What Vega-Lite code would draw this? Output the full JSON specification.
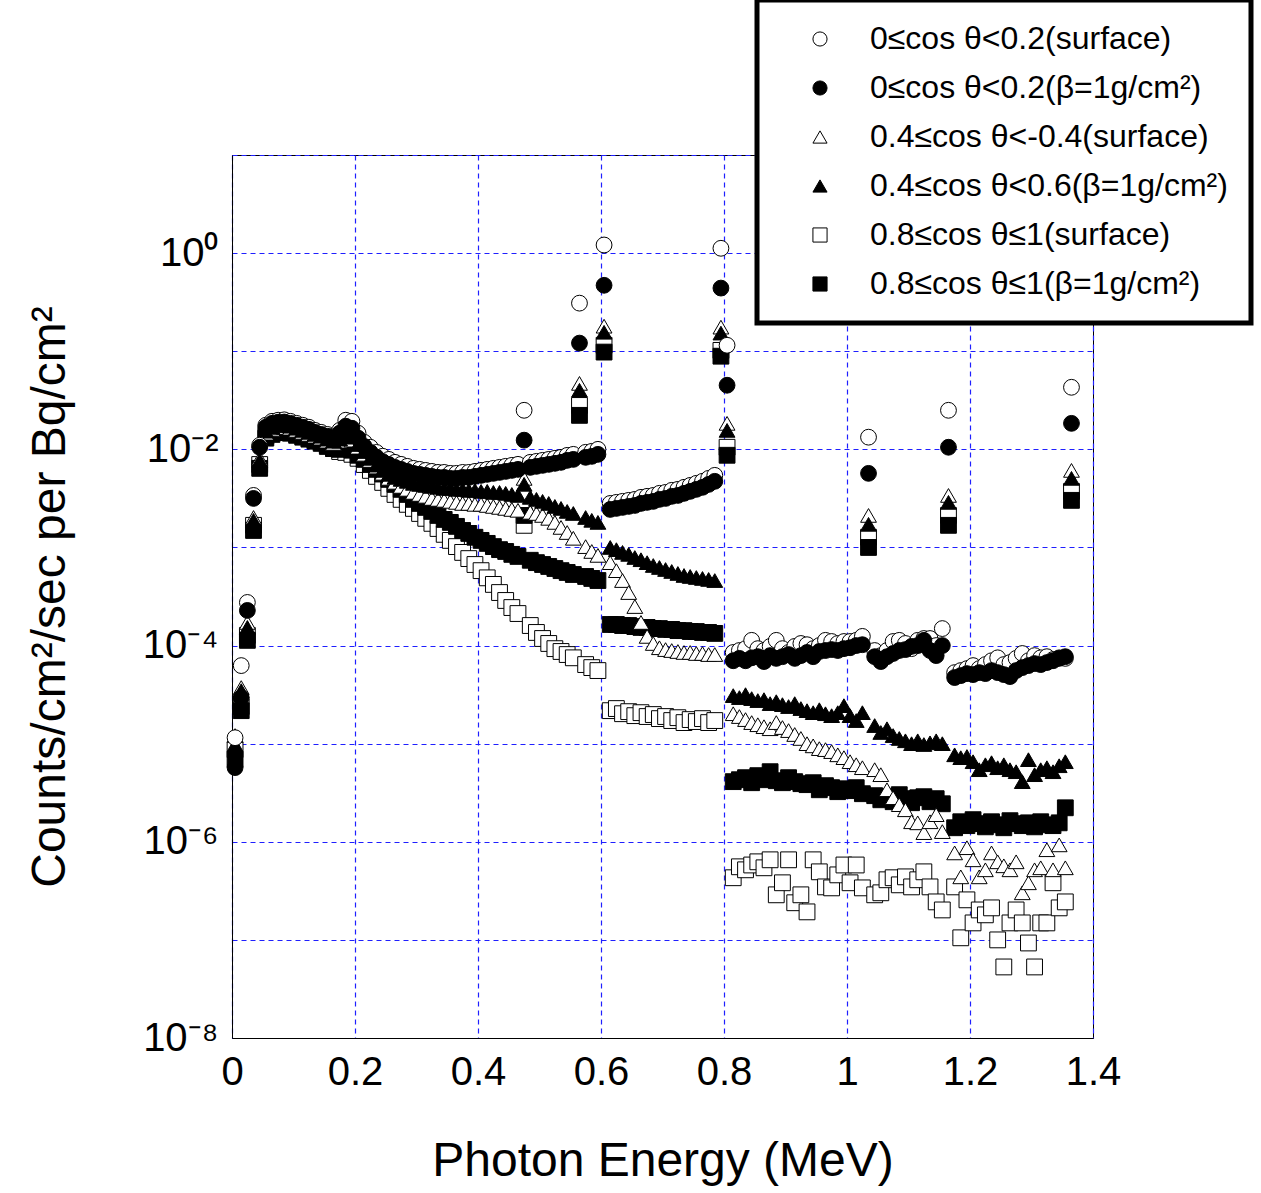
{
"$schema": "https://vega.github.io/schema/vega-lite/v6.json",
"width": 861, "height": 883,
"autosize": {"type": "none"},
"padding": {"left": 232, "top": 155, "right": 168, "bottom": 155},
"background": "white",
"config": {"font": "Liberation Sans", "view": {"stroke": "black", "strokeWidth": 1},
  "legend": {"strokeColor": "black", "strokeWidth": 5, "fillColor": "white", "padding": 23,
             "symbolOffset": 24, "labelOffset": 34, "rowPadding": 17, "symbolSize": 200,
             "symbolStrokeWidth": 1,
             "labelFontSize": 32, "labelColor": "black", "labelLimit": 700}},
"data": {"values": [
{"e":0.005,"s1":8.7e-6,"s2":6.9e-6,"s3":1.21e-5,"s4":9.77e-6,"s5":1.15e-5,"s6":5.7e-6},
{"e":0.015,"s1":2.39e-5,"s2":2.17e-5,"s3":3.73e-5,"s4":3.47e-5,"s5":6.25e-5,"s6":2.95e-5},
{"e":0.025,"s1":1.27e-4,"s2":1.13e-4,"s3":1.72e-4,"s4":1.53e-4,"s5":2.75e-4,"s6":2.28e-4},
{"e":0.035,"s1":1.68e-3,"s2":1.49e-3,"s3":2.02e-3,"s4":1.89e-3,"s5":3.39e-3,"s6":3.16e-3},
{"e":0.045,"s1":7.0e-3,"s2":6.4e-3,"s3":8.1e-3,"s4":7.7e-3,"s5":1.10e-2,"s6":1.05e-2},
{"e":0.055,"s1":1.36e-2,"s2":1.30e-2,"s3":1.46e-2,"s4":1.53e-2,"s5":1.76e-2,"s6":1.68e-2},
{"e":0.065,"s1":1.49e-2,"s2":1.42e-2,"s3":1.60e-2,"s4":1.68e-2,"s5":1.93e-2,"s6":1.84e-2},
{"e":0.075,"s1":1.56e-2,"s2":1.49e-2,"s3":1.68e-2,"s4":1.76e-2,"s5":1.98e-2,"s6":1.89e-2},
{"e":0.085,"s1":1.55e-2,"s2":1.48e-2,"s3":1.67e-2,"s4":1.75e-2,"s5":2.0e-2,"s6":1.9e-2},
{"e":0.095,"s1":1.53e-2,"s2":1.46e-2,"s3":1.64e-2,"s4":1.72e-2,"s5":1.93e-2,"s6":1.84e-2},
{"e":0.105,"s1":1.46e-2,"s2":1.39e-2,"s3":1.56e-2,"s4":1.64e-2,"s5":1.84e-2,"s6":1.76e-2},
{"e":0.115,"s1":1.39e-2,"s2":1.33e-2,"s3":1.49e-2,"s4":1.56e-2,"s5":1.76e-2,"s6":1.68e-2},
{"e":0.125,"s1":1.33e-2,"s2":1.27e-2,"s3":1.42e-2,"s4":1.49e-2,"s5":1.68e-2,"s6":1.60e-2},
{"e":0.135,"s1":1.24e-2,"s2":1.21e-2,"s3":1.36e-2,"s4":1.42e-2,"s5":1.56e-2,"s6":1.49e-2},
{"e":0.145,"s1":1.18e-2,"s2":1.15e-2,"s3":1.30e-2,"s4":1.36e-2,"s5":1.49e-2,"s6":1.42e-2},
{"e":0.155,"s1":1.10e-2,"s2":1.07e-2,"s3":1.21e-2,"s4":1.27e-2,"s5":1.42e-2,"s6":1.36e-2},
{"e":0.165,"s1":1.02e-2,"s2":1.02e-2,"s3":1.15e-2,"s4":1.21e-2,"s5":1.36e-2,"s6":1.30e-2},
{"e":0.175,"s1":9.5e-3,"s2":1.0e-2,"s3":1.21e-2,"s4":1.27e-2,"s5":1.56e-2,"s6":1.46e-2},
{"e":0.185,"s1":9.3e-3,"s2":1.05e-2,"s3":1.33e-2,"s4":1.39e-2,"s5":1.98e-2,"s6":1.72e-2},
{"e":0.195,"s1":8.9e-3,"s2":9.8e-3,"s3":1.24e-2,"s4":1.33e-2,"s5":1.93e-2,"s6":1.64e-2},
{"e":0.205,"s1":8.1e-3,"s2":8.7e-3,"s3":1.05e-2,"s4":1.12e-2,"s5":1.46e-2,"s6":1.30e-2},
{"e":0.215,"s1":7.0e-3,"s2":7.9e-3,"s3":8.9e-3,"s4":9.5e-3,"s5":1.18e-2,"s6":1.07e-2},
{"e":0.225,"s1":6.1e-3,"s2":7.0e-3,"s3":7.7e-3,"s4":8.1e-3,"s5":1.05e-2,"s6":9.3e-3},
{"e":0.235,"s1":5.3e-3,"s2":6.25e-3,"s3":6.6e-3,"s4":6.9e-3,"s5":9.3e-3,"s6":8.3e-3},
{"e":0.245,"s1":4.6e-3,"s2":5.6e-3,"s3":5.7e-3,"s4":6.1e-3,"s5":8.5e-3,"s6":7.5e-3},
{"e":0.255,"s1":4.0e-3,"s2":4.94e-3,"s3":5.06e-3,"s4":5.56e-3,"s5":7.9e-3,"s6":7.0e-3},
{"e":0.265,"s1":3.47e-3,"s2":4.39e-3,"s3":4.61e-3,"s4":5.18e-3,"s5":7.37e-3,"s6":6.55e-3},
{"e":0.275,"s1":3.09e-3,"s2":3.91e-3,"s3":4.19e-3,"s4":4.94e-3,"s5":7.03e-3,"s6":6.25e-3},
{"e":0.285,"s1":2.75e-3,"s2":3.47e-3,"s3":3.91e-3,"s4":4.72e-3,"s5":6.71e-3,"s6":5.96e-3},
{"e":0.295,"s1":2.5e-3,"s2":3.09e-3,"s3":3.64e-3,"s4":4.5e-3,"s5":6.4e-3,"s6":5.69e-3},
{"e":0.305,"s1":2.22e-3,"s2":2.81e-3,"s3":3.47e-3,"s4":4.39e-3,"s5":6.25e-3,"s6":5.56e-3},
{"e":0.315,"s1":1.98e-3,"s2":2.56e-3,"s3":3.32e-3,"s4":4.29e-3,"s5":6.1e-3,"s6":5.43e-3},
{"e":0.325,"s1":1.76e-3,"s2":2.33e-3,"s3":3.16e-3,"s4":4.19e-3,"s5":5.96e-3,"s6":5.3e-3},
{"e":0.335,"s1":1.56e-3,"s2":2.12e-3,"s3":3.09e-3,"s4":4.1e-3,"s5":5.82e-3,"s6":5.18e-3},
{"e":0.345,"s1":1.36e-3,"s2":1.93e-3,"s3":3.02e-3,"s4":4.0e-3,"s5":5.82e-3,"s6":5.18e-3},
{"e":0.355,"s1":1.18e-3,"s2":1.8e-3,"s3":2.95e-3,"s4":4.0e-3,"s5":5.69e-3,"s6":5.06e-3},
{"e":0.365,"s1":1.02e-3,"s2":1.64e-3,"s3":2.88e-3,"s4":3.91e-3,"s5":5.69e-3,"s6":5.06e-3},
{"e":0.375,"s1":8.9e-4,"s2":1.49e-3,"s3":2.81e-3,"s4":3.91e-3,"s5":5.82e-3,"s6":5.18e-3},
{"e":0.385,"s1":7.7e-4,"s2":1.39e-3,"s3":2.81e-3,"s4":3.82e-3,"s5":5.82e-3,"s6":5.18e-3},
{"e":0.395,"s1":6.7e-4,"s2":1.27e-3,"s3":2.75e-3,"s4":3.82e-3,"s5":5.96e-3,"s6":5.3e-3},
{"e":0.405,"s1":5.8e-4,"s2":1.18e-3,"s3":2.75e-3,"s4":3.73e-3,"s5":6.1e-3,"s6":5.43e-3},
{"e":0.415,"s1":4.9e-4,"s2":1.10e-3,"s3":2.68e-3,"s4":3.73e-3,"s5":6.25e-3,"s6":5.56e-3},
{"e":0.425,"s1":4.2e-4,"s2":1.02e-3,"s3":2.62e-3,"s4":3.64e-3,"s5":6.4e-3,"s6":5.69e-3},
{"e":0.435,"s1":3.47e-4,"s2":9.5e-4,"s3":2.56e-3,"s4":3.64e-3,"s5":6.55e-3,"s6":5.82e-3},
{"e":0.445,"s1":2.88e-4,"s2":9.1e-4,"s3":2.5e-3,"s4":3.56e-3,"s5":6.71e-3,"s6":5.96e-3},
{"e":0.455,"s1":2.44e-4,"s2":8.5e-4,"s3":2.44e-3,"s4":3.47e-3,"s5":6.87e-3,"s6":6.1e-3},
{"e":0.465,"s1":2.12e-4,"s2":8.1e-4,"s3":2.39e-3,"s4":3.39e-3,"s5":7.03e-3,"s6":6.25e-3},
{"e":0.475,"s1":1.68e-3,"s2":2.12e-3,"s3":5.06e-3,"s4":4.4e-3,"s5":2.5e-2,"s6":1.24e-2},
{"e":0.485,"s1":1.6e-4,"s2":7.4e-4,"s3":2.28e-3,"s4":3.24e-3,"s5":7.37e-3,"s6":6.55e-3},
{"e":0.495,"s1":1.36e-4,"s2":7.0e-4,"s3":2.22e-3,"s4":3.09e-3,"s5":7.54e-3,"s6":6.71e-3},
{"e":0.505,"s1":1.18e-4,"s2":6.7e-4,"s3":2.12e-3,"s4":2.95e-3,"s5":7.72e-3,"s6":6.87e-3},
{"e":0.515,"s1":1.05e-4,"s2":6.4e-4,"s3":1.98e-3,"s4":2.81e-3,"s5":7.9e-3,"s6":7.03e-3},
{"e":0.525,"s1":9.3e-5,"s2":6.1e-4,"s3":1.8e-3,"s4":2.62e-3,"s5":8.1e-3,"s6":7.2e-3},
{"e":0.535,"s1":8.7e-5,"s2":5.8e-4,"s3":1.6e-3,"s4":2.5e-3,"s5":8.29e-3,"s6":7.37e-3},
{"e":0.545,"s1":8.1e-5,"s2":5.56e-4,"s3":1.42e-3,"s4":2.33e-3,"s5":8.68e-3,"s6":7.72e-3},
{"e":0.555,"s1":7.5e-5,"s2":5.3e-4,"s3":1.24e-3,"s4":2.22e-3,"s5":8.89e-3,"s6":7.9e-3},
{"e":0.565,"s1":2.8e-2,"s2":2.22e-2,"s3":4.7e-2,"s4":4.0e-2,"s5":0.309,"s6":0.121},
{"e":0.575,"s1":6.4e-5,"s2":5.06e-4,"s3":1.02e-3,"s4":2.02e-3,"s5":9.32e-3,"s6":8.29e-3},
{"e":0.585,"s1":5.96e-5,"s2":4.83e-4,"s3":9.1e-4,"s4":1.89e-3,"s5":9.54e-3,"s6":8.48e-3},
{"e":0.595,"s1":5.56e-5,"s2":4.6e-4,"s3":8.3e-4,"s4":1.8e-3,"s5":1.0e-2,"s6":8.89e-3},
{"e":0.605,"s1":0.115,"s2":0.098,"s3":0.18,"s4":0.156,"s5":1.21,"s6":0.47},
{"e":0.615,"s1":2.17e-5,"s2":1.64e-4,"s3":7.0e-4,"s4":1.0e-3,"s5":2.81e-3,"s6":2.44e-3},
{"e":0.625,"s1":2.28e-5,"s2":1.64e-4,"s3":5.8e-4,"s4":9.5e-4,"s5":2.88e-3,"s6":2.5e-3},
{"e":0.635,"s1":2.02e-5,"s2":1.6e-4,"s3":4.6e-4,"s4":8.9e-4,"s5":2.95e-3,"s6":2.56e-3},
{"e":0.645,"s1":2.12e-5,"s2":1.6e-4,"s3":3.47e-4,"s4":8.5e-4,"s5":3.02e-3,"s6":2.62e-3},
{"e":0.655,"s1":1.93e-5,"s2":1.56e-4,"s3":2.5e-4,"s4":7.9e-4,"s5":3.09e-3,"s6":2.68e-3},
{"e":0.665,"s1":2.07e-5,"s2":1.53e-4,"s3":1.72e-4,"s4":7.5e-4,"s5":3.24e-3,"s6":2.81e-3},
{"e":0.675,"s1":1.89e-5,"s2":1.53e-4,"s3":1.24e-4,"s4":7.0e-4,"s5":3.32e-3,"s6":2.88e-3},
{"e":0.685,"s1":1.98e-5,"s2":1.49e-4,"s3":1.05e-4,"s4":6.55e-4,"s5":3.39e-3,"s6":2.95e-3},
{"e":0.695,"s1":1.8e-5,"s2":1.49e-4,"s3":9.5e-5,"s4":6.25e-4,"s5":3.56e-3,"s6":3.09e-3},
{"e":0.705,"s1":1.89e-5,"s2":1.46e-4,"s3":9.1e-5,"s4":5.96e-4,"s5":3.64e-3,"s6":3.16e-3},
{"e":0.715,"s1":1.72e-5,"s2":1.46e-4,"s3":8.9e-5,"s4":5.69e-4,"s5":3.82e-3,"s6":3.32e-3},
{"e":0.725,"s1":1.84e-5,"s2":1.42e-4,"s3":8.7e-5,"s4":5.43e-4,"s5":3.91e-3,"s6":3.39e-3},
{"e":0.735,"s1":1.64e-5,"s2":1.42e-4,"s3":8.5e-5,"s4":5.18e-4,"s5":4.1e-3,"s6":3.56e-3},
{"e":0.745,"s1":1.76e-5,"s2":1.39e-4,"s3":8.5e-5,"s4":5.06e-4,"s5":4.29e-3,"s6":3.73e-3},
{"e":0.755,"s1":1.68e-5,"s2":1.39e-4,"s3":8.3e-5,"s4":4.94e-4,"s5":4.5e-3,"s6":3.91e-3},
{"e":0.765,"s1":1.8e-5,"s2":1.36e-4,"s3":8.3e-5,"s4":4.83e-4,"s5":4.72e-3,"s6":4.1e-3},
{"e":0.775,"s1":1.64e-5,"s2":1.36e-4,"s3":8.1e-5,"s4":4.72e-4,"s5":5.06e-3,"s6":4.39e-3},
{"e":0.785,"s1":1.72e-5,"s2":1.33e-4,"s3":8.1e-5,"s4":4.6e-4,"s5":5.43e-3,"s6":4.72e-3},
{"e":0.795,"s1":0.102,"s2":8.9e-2,"s3":0.176,"s4":0.153,"s5":1.12,"s6":0.44},
{"e":0.805,"s1":1.05e-2,"s2":8.7e-3,"s3":1.84e-2,"s4":1.56e-2,"s5":0.115,"s6":4.5e-2},
{"e":0.815,"s1":4.3e-7,"s2":4.1e-6,"s3":2.02e-5,"s4":3.09e-5,"s5":8.5e-5,"s6":7.0e-5},
{"e":0.825,"s1":5.56e-7,"s2":4.29e-6,"s3":1.89e-5,"s4":2.95e-5,"s5":8.9e-5,"s6":7.4e-5},
{"e":0.835,"s1":5.18e-7,"s2":4.5e-6,"s3":1.76e-5,"s4":3.16e-5,"s5":9.3e-5,"s6":7.0e-5},
{"e":0.845,"s1":5.8e-7,"s2":4.0e-6,"s3":1.64e-5,"s4":2.88e-5,"s5":1.13e-4,"s6":7.5e-5},
{"e":0.855,"s1":6.25e-7,"s2":4.72e-6,"s3":1.56e-5,"s4":2.75e-5,"s5":9.3e-5,"s6":7.7e-5},
{"e":0.865,"s1":5.43e-7,"s2":4.29e-6,"s3":1.49e-5,"s4":2.81e-5,"s5":8.9e-5,"s6":6.87e-5},
{"e":0.875,"s1":6.55e-7,"s2":5.18e-6,"s3":1.42e-5,"s4":2.56e-5,"s5":9.8e-5,"s6":7.9e-5},
{"e":0.885,"s1":2.88e-7,"s2":4.19e-6,"s3":1.64e-5,"s4":2.68e-5,"s5":1.13e-4,"s6":7.4e-5},
{"e":0.895,"s1":3.82e-7,"s2":4.0e-6,"s3":1.46e-5,"s4":2.5e-5,"s5":9.3e-5,"s6":7.7e-5},
{"e":0.905,"s1":6.55e-7,"s2":4.5e-6,"s3":1.36e-5,"s4":2.39e-5,"s5":8.5e-5,"s6":8.1e-5},
{"e":0.915,"s1":2.39e-7,"s2":4.1e-6,"s3":1.24e-5,"s4":2.56e-5,"s5":9.8e-5,"s6":7.4e-5},
{"e":0.925,"s1":2.88e-7,"s2":3.91e-6,"s3":1.13e-5,"s4":2.28e-5,"s5":1.05e-4,"s6":7.9e-5},
{"e":0.935,"s1":1.93e-7,"s2":3.82e-6,"s3":1.0e-5,"s4":2.17e-5,"s5":1.02e-4,"s6":8.5e-5},
{"e":0.945,"s1":6.55e-7,"s2":4.0e-6,"s3":9.5e-6,"s4":2.07e-5,"s5":9.3e-5,"s6":7.7e-5},
{"e":0.955,"s1":4.94e-7,"s2":3.39e-6,"s3":8.9e-6,"s4":2.22e-5,"s5":1.0e-4,"s6":8.7e-5},
{"e":0.965,"s1":3.47e-7,"s2":3.73e-6,"s3":8.7e-6,"s4":2.02e-5,"s5":1.13e-4,"s6":8.9e-5},
{"e":0.975,"s1":3.39e-7,"s2":3.56e-6,"s3":8.3e-6,"s4":1.93e-5,"s5":1.1e-4,"s6":9.1e-5},
{"e":0.985,"s1":4.6e-7,"s2":3.24e-6,"s3":7.7e-6,"s4":2.07e-5,"s5":1.05e-4,"s6":8.9e-5},
{"e":0.995,"s1":5.8e-7,"s2":3.47e-6,"s3":7.2e-6,"s4":2.44e-5,"s5":1.1e-4,"s6":9.3e-5},
{"e":1.005,"s1":3.82e-7,"s2":3.32e-6,"s3":6.55e-6,"s4":1.93e-5,"s5":1.1e-4,"s6":9.5e-5},
{"e":1.015,"s1":5.8e-7,"s2":3.56e-6,"s3":6.1e-6,"s4":1.72e-5,"s5":1.13e-4,"s6":1.0e-4},
{"e":1.025,"s1":3.39e-7,"s2":3.09e-6,"s3":5.69e-6,"s4":2.07e-5,"s5":1.24e-4,"s6":1.02e-4},
{"e":1.035,"s1":1.27e-3,"s2":1.0e-3,"s3":2.12e-3,"s4":1.72e-3,"s5":1.33e-2,"s6":5.69e-3},
{"e":1.045,"s1":2.88e-7,"s2":2.95e-6,"s3":5.43e-6,"s4":1.53e-5,"s5":8.9e-5,"s6":7.7e-5},
{"e":1.055,"s1":3.02e-7,"s2":2.68e-6,"s3":4.83e-6,"s4":1.3e-5,"s5":7.9e-5,"s6":6.87e-5},
{"e":1.065,"s1":4.1e-7,"s2":2.88e-6,"s3":3.39e-6,"s4":1.42e-5,"s5":8.9e-5,"s6":7.7e-5},
{"e":1.075,"s1":4.3e-7,"s2":2.56e-6,"s3":2.81e-6,"s4":1.21e-5,"s5":1.1e-4,"s6":8.3e-5},
{"e":1.085,"s1":3.64e-7,"s2":3.02e-6,"s3":2.39e-6,"s4":1.13e-5,"s5":1.13e-4,"s6":8.9e-5},
{"e":1.095,"s1":4.39e-7,"s2":2.75e-6,"s3":2.12e-6,"s4":1.07e-5,"s5":1.05e-4,"s6":9.1e-5},
{"e":1.105,"s1":3.47e-7,"s2":2.5e-6,"s3":1.6e-6,"s4":1.0e-5,"s5":9.3e-5,"s6":9.8e-5},
{"e":1.115,"s1":4.1e-7,"s2":2.81e-6,"s3":1.56e-6,"s4":1.07e-5,"s5":1.13e-4,"s6":1.0e-4},
{"e":1.125,"s1":4.94e-7,"s2":2.88e-6,"s3":1.24e-6,"s4":9.8e-6,"s5":1.18e-4,"s6":1.13e-4},
{"e":1.135,"s1":3.47e-7,"s2":2.56e-6,"s3":1.6e-6,"s4":1.02e-5,"s5":1.18e-4,"s6":8.9e-5},
{"e":1.145,"s1":2.44e-7,"s2":2.75e-6,"s3":1.89e-6,"s4":1.07e-5,"s5":1.0e-4,"s6":7.9e-5},
{"e":1.155,"s1":2.02e-7,"s2":2.44e-6,"s3":1.27e-6,"s4":1.0e-5,"s5":1.49e-4,"s6":1.0e-4},
{"e":1.165,"s1":2.12e-3,"s2":1.68e-3,"s3":3.39e-3,"s4":2.88e-3,"s5":2.5e-2,"s6":1.05e-2},
{"e":1.175,"s1":3.47e-7,"s2":1.39e-6,"s3":7.7e-7,"s4":7.7e-6,"s5":5.3e-5,"s6":4.72e-5},
{"e":1.185,"s1":1.05e-7,"s2":1.6e-6,"s3":4.39e-7,"s4":7.2e-6,"s5":5.56e-5,"s6":4.94e-5},
{"e":1.195,"s1":2.56e-7,"s2":1.46e-6,"s3":8.7e-7,"s4":7.4e-6,"s5":5.82e-5,"s6":5.18e-5},
{"e":1.205,"s1":1.49e-7,"s2":1.68e-6,"s3":6.55e-7,"s4":6.55e-6,"s5":6.25e-5,"s6":5.06e-5},
{"e":1.215,"s1":2.02e-7,"s2":1.53e-6,"s3":4.39e-7,"s4":5.43e-6,"s5":5.82e-5,"s6":5.3e-5},
{"e":1.225,"s1":1.8e-7,"s2":1.42e-6,"s3":5.18e-7,"s4":6.1e-6,"s5":6.4e-5,"s6":5.18e-5},
{"e":1.235,"s1":2.12e-7,"s2":1.6e-6,"s3":7.7e-7,"s4":6.4e-6,"s5":7.0e-5,"s6":5.56e-5},
{"e":1.245,"s1":1.0e-7,"s2":1.49e-6,"s3":6.25e-7,"s4":5.69e-6,"s5":7.5e-5,"s6":5.3e-5},
{"e":1.255,"s1":5.3e-8,"s2":1.39e-6,"s3":5.69e-7,"s4":6.1e-6,"s5":6.4e-5,"s6":5.06e-5},
{"e":1.265,"s1":1.49e-7,"s2":1.64e-6,"s3":5.18e-7,"s4":5.43e-6,"s5":6.71e-5,"s6":4.83e-5},
{"e":1.275,"s1":2.02e-7,"s2":1.53e-6,"s3":6.25e-7,"s4":5.18e-6,"s5":7.4e-5,"s6":5.56e-5},
{"e":1.285,"s1":1.49e-7,"s2":1.46e-6,"s3":3.02e-7,"s4":4.1e-6,"s5":8.3e-5,"s6":5.96e-5},
{"e":1.295,"s1":9.3e-8,"s2":1.56e-6,"s3":3.82e-7,"s4":6.87e-6,"s5":7.0e-5,"s6":6.25e-5},
{"e":1.305,"s1":5.3e-8,"s2":1.42e-6,"s3":5.18e-7,"s4":4.83e-6,"s5":7.9e-5,"s6":6.55e-5},
{"e":1.315,"s1":1.49e-7,"s2":1.6e-6,"s3":5.43e-7,"s4":5.43e-6,"s5":7.5e-5,"s6":6.4e-5},
{"e":1.325,"s1":1.49e-7,"s2":1.49e-6,"s3":8.3e-7,"s4":5.69e-6,"s5":7.7e-5,"s6":6.71e-5},
{"e":1.335,"s1":3.82e-7,"s2":1.46e-6,"s3":5.18e-7,"s4":5.18e-6,"s5":7.2e-5,"s6":7.0e-5},
{"e":1.345,"s1":2.12e-7,"s2":1.56e-6,"s3":9.3e-7,"s4":5.96e-6,"s5":7.5e-5,"s6":7.4e-5},
{"e":1.355,"s1":2.44e-7,"s2":2.22e-6,"s3":5.43e-7,"s4":6.55e-6,"s5":7.4e-5,"s6":7.7e-5},
{"e":1.365,"s1":3.73e-3,"s2":3.02e-3,"s3":6.1e-3,"s4":5.06e-3,"s5":4.29e-2,"s6":1.84e-2}
]},
"transform": [{"fold": ["s1","s2","s3","s4","s5","s6"], "as": ["series","value"]}],
"mark": {"type": "point", "filled": true, "strokeWidth": 1, "size": 250, "opacity": 1},
"encoding": {
  "x": {"field": "e", "type": "quantitative",
        "scale": {"domain": [0, 1.4], "nice": false, "zero": false},
        "axis": {"values": [0,0.2,0.4,0.6,0.8,1,1.2,1.4], "format": "~g",
                 "labelFontSize": 40, "labelColor": "black", "labelPadding": 14, "labelFlush": false, "labelOverlap": false,
                 "ticks": false, "domainColor": "black",
                 "grid": true, "gridColor": "#1f1fff", "gridDash": [5,4], "gridWidth": 1.2, "gridOpacity": 1,
                 "title": "Photon Energy (MeV)", "titleFontSize": 48, "titleFontWeight": "normal", "titleColor": "black", "titlePadding": 45}},
  "y": {"field": "value", "type": "quantitative",
        "scale": {"type": "log", "domain": [1e-8, 10], "nice": false},
        "axis": {"values": [1e-8,1e-7,1e-6,1e-5,1e-4,1e-3,1e-2,1e-1,1,10],
                 "labelExpr": "datum.value == 1 ? '10⁰' : datum.value == 0.01 ? '10⁻²' : datum.value == 0.0001 ? '10⁻⁴' : datum.value == 0.000001 ? '10⁻⁶' : datum.value == 1e-8 ? '10⁻⁸' : ''",
                 "labelFontSize": 40, "labelColor": "black", "labelPadding": 14, "labelOverlap": false, "labelFlush": false,
                 "ticks": false, "domainColor": "black",
                 "grid": true, "gridColor": "#1f1fff", "gridDash": [5,4], "gridWidth": 1.2, "gridOpacity": 1,
                 "title": "Counts/cm²/sec per Bq/cm²", "titleFontSize": 48, "titleFontWeight": "normal", "titleColor": "black", "titlePadding": 68}},
  "shape": {"field": "series", "type": "nominal",
            "scale": {"domain": ["s5","s6","s3","s4","s1","s2"], "range": ["circle","circle","triangle-up","triangle-up","square","square"]},
            "legend": {"orient": "none", "legendX": 525, "legendY": -155, "title": null, "direction": "vertical",
                       "labelExpr": "datum.value == 's5' ? '0≤cos θ<0.2(surface)' : datum.value == 's6' ? '0≤cos θ<0.2(β=1g/cm²)' : datum.value == 's3' ? '0.4≤cos θ<-0.4(surface)' : datum.value == 's4' ? '0.4≤cos θ<0.6(β=1g/cm²)' : datum.value == 's1' ? '0.8≤cos θ≤1(surface)' : '0.8≤cos θ≤1(β=1g/cm²)'"}},
  "fill": {"field": "series", "type": "nominal",
           "scale": {"domain": ["s5","s6","s3","s4","s1","s2"], "range": ["white","black","white","black","white","black"]},
           "legend": {"orient": "none", "legendX": 525, "legendY": -155, "title": null, "direction": "vertical",
                       "labelExpr": "datum.value == 's5' ? '0≤cos θ<0.2(surface)' : datum.value == 's6' ? '0≤cos θ<0.2(β=1g/cm²)' : datum.value == 's3' ? '0.4≤cos θ<-0.4(surface)' : datum.value == 's4' ? '0.4≤cos θ<0.6(β=1g/cm²)' : datum.value == 's1' ? '0.8≤cos θ≤1(surface)' : '0.8≤cos θ≤1(β=1g/cm²)'"}},
  "stroke": {"field": "series", "type": "nominal",
           "scale": {"domain": ["s5","s6","s3","s4","s1","s2"], "range": ["black","black","black","black","black","black"]},
           "legend": {"orient": "none", "legendX": 525, "legendY": -155, "title": null, "direction": "vertical",
                       "labelExpr": "datum.value == 's5' ? '0≤cos θ<0.2(surface)' : datum.value == 's6' ? '0≤cos θ<0.2(β=1g/cm²)' : datum.value == 's3' ? '0.4≤cos θ<-0.4(surface)' : datum.value == 's4' ? '0.4≤cos θ<0.6(β=1g/cm²)' : datum.value == 's1' ? '0.8≤cos θ≤1(surface)' : '0.8≤cos θ≤1(β=1g/cm²)'"}},
  "order": {"field": "series", "type": "ordinal", "sort": "ascending"}
}
}
